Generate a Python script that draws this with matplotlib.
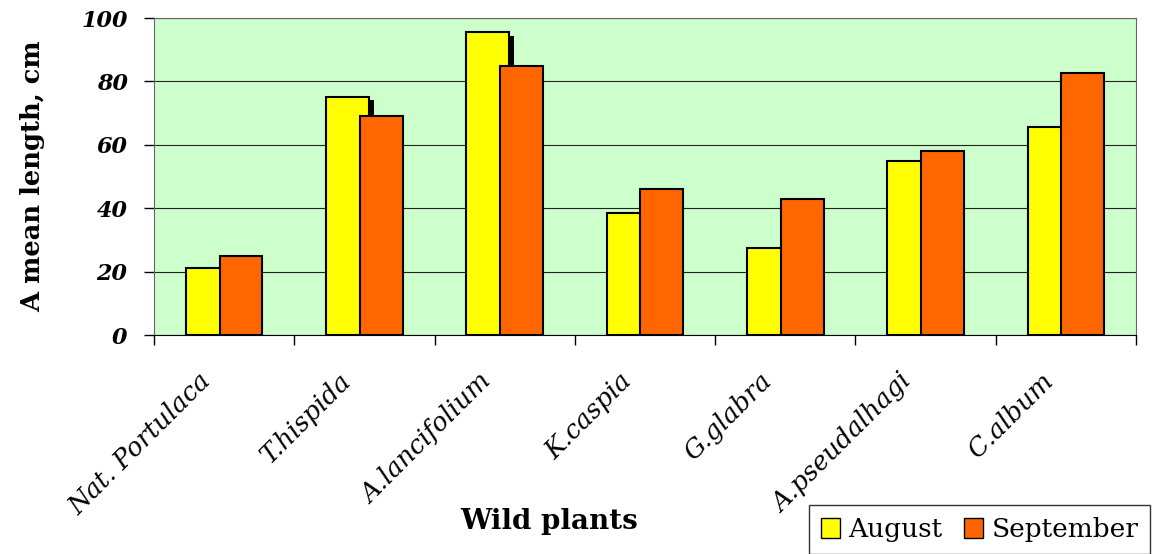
import numpy as np
import matplotlib.pyplot as plt
from matplotlib.patches import Patch

plants = ['Nat. Portulaca', 'T.hispida', 'A.lancifolium', 'K.caspia',
          'G.glabra', 'A.pseudalhagi', 'C.album']
august = [21, 75, 95.5, 38.5, 27.5, 55, 65.5]
september = [25, 69, 85, 46, 43, 58, 82.5]
# dark shadow left behind a couple of the August bars
shadow = [0, 74, 94.3, 0, 0, 0, 0]

plt.rcParams['font.family'] = ['DejaVu Serif']

fig = plt.figure(figsize=(11.57, 5.54), dpi=100)
ax = fig.add_axes([0.1331, 0.3953, 0.8487, 0.5722])
ax.set_facecolor('#ccffcc')

x = np.arange(len(plants))
w = 0.306
off = 0.12
ax.bar(x - off + 0.036, shadow, w, color='black', zorder=2)
ax.bar(x - off, august, w, color='#ffff00', edgecolor='black', linewidth=1.5, zorder=3)
ax.bar(x + off, september, w, color='#ff6600', edgecolor='black', linewidth=1.5, zorder=4)

ax.set_xlim(-0.5, len(plants) - 0.5)
ax.set_ylim(0, 100)
ax.set_yticks(range(0, 101, 20))
ax.yaxis.grid(True, color='#222222', linewidth=0.8, zorder=1)
ax.set_axisbelow(True)

# tick marks between groups, names hung slightly left of each group centre
ax.set_xticks(np.arange(len(plants) + 1) - 0.5, minor=False)
ax.set_xticklabels([])
ax.set_xticks(x - 0.185, minor=True)
ax.set_xticklabels(plants, minor=True, rotation=45, ha='right', va='top',
                   fontsize=18.5, fontstyle='italic', rotation_mode='anchor')
ax.tick_params(axis='x', which='minor', length=0, pad=24)
ax.tick_params(axis='x', which='major', length=7, width=1, direction='out')
ax.tick_params(axis='y', length=7, width=1, direction='out', pad=12)
for lab in ax.get_yticklabels():
    lab.set_fontsize(16)
    lab.set_fontstyle('italic')
    lab.set_fontweight('bold')

for side in ['top', 'right', 'left']:
    ax.spines[side].set_color('#666666')
ax.spines['bottom'].set_color('black')

ax.set_ylabel('A mean length, cm', fontsize=18.5, fontweight='bold', labelpad=26)
fig.text(0.475, 0.058, 'Wild plants', fontsize=20, fontweight='bold', ha='center', va='center')

handles = [Patch(facecolor='#ffff00', edgecolor='black'),
           Patch(facecolor='#ff6600', edgecolor='black')]
fig.legend(handles, ['August', 'September'], loc='lower right',
           bbox_to_anchor=(0.994, 0.0), borderaxespad=0, ncol=2, fontsize=19,
           frameon=True, fancybox=False, edgecolor='black', handlelength=0.75,
           handleheight=0.75, handletextpad=0.3, columnspacing=0.8, borderpad=0.45)

fig.savefig('out.png', dpi=100)
